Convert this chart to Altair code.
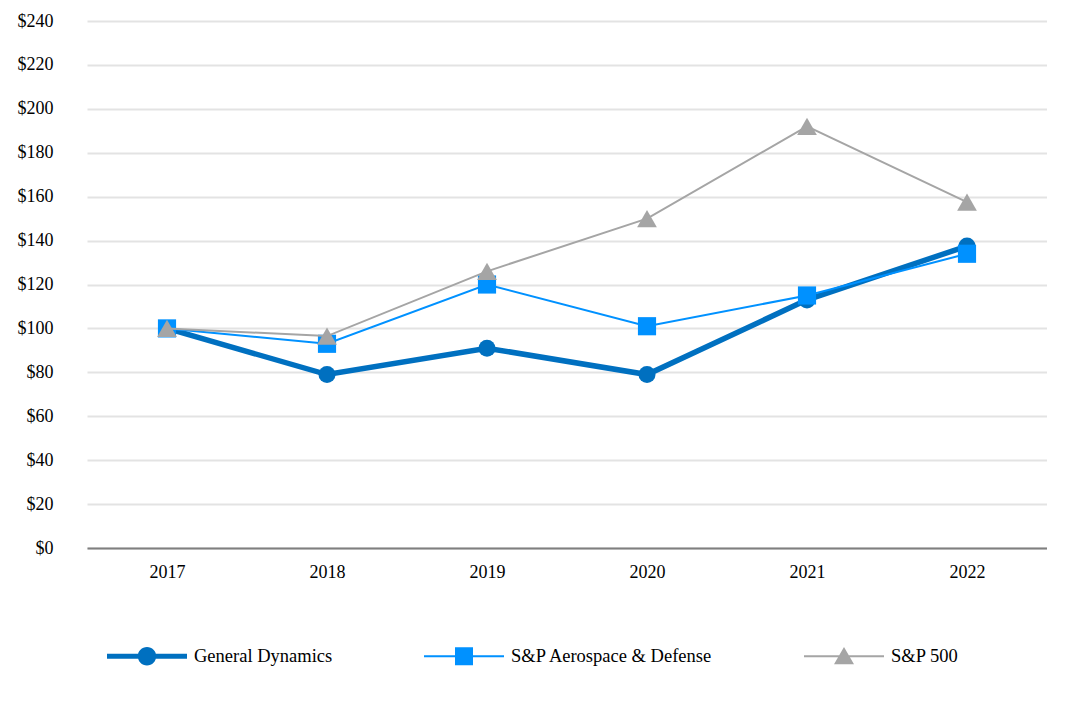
import altair as alt
import pandas as pd

years = ["2017", "2018", "2019", "2020", "2021", "2022"]
series_names = ["General Dynamics", "S&P Aerospace & Defense", "S&P 500"]
gd_values = [100, 79, 91, 79, 113, 137.5]
ad_values = [100, 93, 120, 101, 115, 134]
sp_values = [100, 96.5, 126, 150, 192, 157.5]
y_ticks = [0, 20, 40, 60, 80, 100, 120, 140, 160, 180, 200, 220, 240]

colors = ["#0070C0", "#0091FF", "#A5A5A5"]
widths = [5.5, 2, 2]
shapes = ["circle", "square", "triangle-up"]
sizes = [290, 330, 390]

rows = []
for name, vals in zip(series_names, [gd_values, ad_values, sp_values]):
    for y, v in zip(years, vals):
        rows.append({"year": y, "value": v, "series": name})
df = pd.DataFrame(rows)

FONT = "Times New Roman, Liberation Serif, Times, serif"

x_enc = alt.X("year:O", sort=years, title=None,
              scale=alt.Scale(type="point", padding=0.5),
              axis=alt.Axis(labelAngle=0, ticks=False, domain=True, grid=False,
                            domainColor="#7F7F7F", domainWidth=2,
                            labelPadding=15, labelFontSize=18, labelFont=FONT,
                            labelColor="#000000"))
y_enc = alt.Y("value:Q", title=None,
              scale=alt.Scale(domain=[0, 240], nice=False),
              axis=alt.Axis(values=y_ticks, labelExpr="'$' + datum.value",
                            ticks=False, domain=False, grid=True,
                            gridColor="#E3E3E3", gridWidth=2,
                            labelPadding=34, labelFontSize=18, labelFont=FONT,
                            labelColor="#000000"))

layers = []
for name, c, w, s, sz in zip(series_names, colors, widths, shapes, sizes):
    base = alt.Chart(df).transform_filter(alt.datum.series == name)
    line = base.mark_line(color=c, strokeWidth=w).encode(x=x_enc, y=y_enc)
    pts = base.mark_point(shape=s, filled=True, size=sz, color=c, opacity=1,
                          strokeWidth=0).encode(x=x_enc, y=y_enc)
    layers += [line, pts]

# legend symbols: line segment with marker, drawn as custom shapes
def rect(t):
    return f"M -1,{-t} L 1,{-t} L 1,{t} L -1,{t} Z "

circle_r = 0.23
legend_paths = [
    rect(0.0625) + f"M {-circle_r},0 A {circle_r},{circle_r} 0 1,1 {circle_r},0 "
                   f"A {circle_r},{circle_r} 0 1,1 {-circle_r},0 Z",
    rect(0.025) + "M -0.225,-0.225 L 0.225,-0.225 L 0.225,0.225 L -0.225,0.225 Z",
    rect(0.025) + "M 0,-0.23 L 0.25,0.2 L -0.25,0.2 Z",
]

legend_layer = alt.Chart(df).transform_filter("false").mark_point(
    filled=True, opacity=1).encode(
    x=x_enc, y=y_enc,
    color=alt.Color("series:N",
                    scale=alt.Scale(domain=series_names, range=colors),
                    legend=alt.Legend(title=None, orient="none", direction="horizontal",
                                      legendX=20, legendY=595, padding=0,
                                      symbolSize=6400, symbolStrokeWidth=0,
                                      symbolOpacity=1, labelOffset=7,
                                      columnPadding=91, labelFont=FONT,
                                      labelFontSize=18.5, labelColor="#000000",
                                      labelLimit=400)),
    shape=alt.Shape("series:N",
                    scale=alt.Scale(domain=series_names, range=legend_paths)),
)
layers.append(legend_layer)

chart = alt.layer(*layers).properties(
    width=960, height=527,
    autosize=alt.AutoSizeParams(type="none"),
    padding={"left": 79, "top": 13, "right": 0, "bottom": 170},
    background="#FFFFFF",
).configure(font=FONT).configure_view(strokeWidth=0)

chart.save("out.html", embed_options={"renderer": "svg", "actions": False})
